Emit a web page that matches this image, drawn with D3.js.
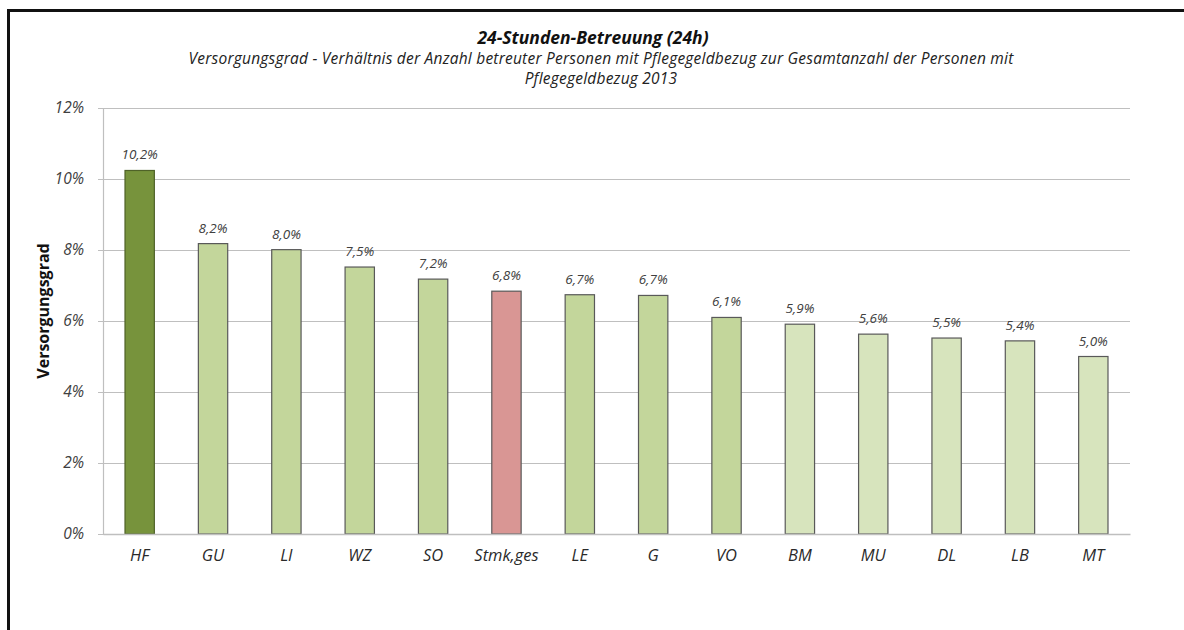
<!DOCTYPE html>
<html>
<head>
<meta charset="utf-8">
<script src="https://cdnjs.cloudflare.com/ajax/libs/d3/7.8.5/d3.min.js"></script>
<style>
  body { margin: 0; background: #fff; }
  svg { display: block; font-family: "Open Sans", Lato, sans-serif; }
</style>
</head>
<body>
<svg id="chart" width="1184" height="630"></svg>
<script>
const categories = ['HF', 'GU', 'LI', 'WZ', 'SO', 'Stmk,ges', 'LE', 'G', 'VO', 'BM', 'MU', 'DL', 'LB', 'MT'];
const values = [10.24, 8.18, 8.01, 7.52, 7.18, 6.84, 6.74, 6.72, 6.1, 5.91, 5.63, 5.52, 5.44, 5.0];
// colour group of each bar: top district, upper group, total, lower group
const groups = ['top', 'mid', 'mid', 'mid', 'mid', 'total', 'mid', 'mid', 'mid', 'low', 'low', 'low', 'low', 'low'];
const yTicks = [0, 2, 4, 6, 8, 10, 12];

const TITLE = '24-Stunden-Betreuung (24h)';
const SUBTITLE = ['Versorgungsgrad - Verhältnis der Anzahl betreuter Personen mit Pflegegeldbezug zur Gesamtanzahl der Personen mit',
    'Pflegegeldbezug 2013'];
const Y_LABEL = 'Versorgungsgrad';

const FILLS = { top: '#77933c', mid: '#c3d69b', total: '#d99694', low: '#d7e4bd' };

const svg = d3.select('#chart');
const margin = { left: 103, right: 54, top: 108, bottom: 96 };
const width = 1184 - margin.left - margin.right;
const height = 630 - margin.top - margin.bottom;

// frame (only top and left edges are visible in the picture)
svg.append('line').attr('x1', 8).attr('x2', 1184).attr('y1', 10.5).attr('y2', 10.5)
    .attr('stroke', '#111').attr('stroke-width', 3);
svg.append('line').attr('x1', 8.5).attr('x2', 8.5).attr('y1', 9).attr('y2', 630)
    .attr('stroke', '#111').attr('stroke-width', 3);

svg.append('text')
    .attr('x', 593).attr('y', 44)
    .attr('text-anchor', 'middle')
    .style('font-size', '17.5px').style('font-weight', 'bold').style('font-style', 'italic')
    .attr('fill', '#111')
    .text(TITLE);

svg.selectAll('.sub')
    .data(SUBTITLE)
    .enter().append('text')
    .attr('class', 'sub')
    .attr('x', 601).attr('y', (d, i) => 64 + i * 20)
    .attr('text-anchor', 'middle')
    .style('font-size', '15.5px').style('font-style', 'italic')
    .style('letter-spacing', '0.22px')
    .attr('fill', '#222')
    .text(d => d);

const g = svg.append('g').attr('transform', `translate(${margin.left},${margin.top})`);

const x = d3.scaleBand().domain(categories).range([0, width]).paddingInner(0.6).paddingOuter(0.3);
const y = d3.scaleLinear().domain([0, 12]).range([height, 0]);

// gridlines
g.append('g')
    .selectAll('line')
    .data(yTicks.filter(t => t > 0))
    .enter().append('line')
    .attr('x1', 0).attr('x2', width)
    .attr('y1', d => Math.round(y(d)) + 0.5).attr('y2', d => Math.round(y(d)) + 0.5)
    .attr('stroke', '#bfbfbf').attr('stroke-width', 1.2);

// y axis
const yAxis = g.append('g')
    .call(d3.axisLeft(y).tickValues(yTicks).tickSize(5).tickPadding(14).tickFormat(d => d + '%'));
yAxis.select('.domain').attr('stroke', '#bfbfbf').attr('stroke-width', 1.2);
yAxis.selectAll('.tick line').attr('stroke', '#bfbfbf');
yAxis.selectAll('.tick text')
    .style('font-size', '15.5px').style('font-style', 'italic')
    .style('font-family', '"Open Sans", sans-serif')
    .attr('fill', '#404040');

// bars
g.append('g')
    .selectAll('rect')
    .data(categories)
    .enter().append('rect')
    .attr('x', d => x(d))
    .attr('y', (d, i) => y(values[i]))
    .attr('width', x.bandwidth())
    .attr('height', (d, i) => height - y(values[i]))
    .attr('fill', (d, i) => FILLS[groups[i]])
    .attr('stroke', (d, i) => groups[i] === 'top' ? '#4f6228' : '#595959')
    .attr('stroke-width', 1.2);

// value labels
g.append('g')
    .selectAll('text')
    .data(categories)
    .enter().append('text')
    .attr('x', d => x(d) + x.bandwidth() / 2)
    .attr('y', (d, i) => y(values[i]) - 11)
    .attr('text-anchor', 'middle')
    .style('font-size', '13.5px').style('font-style', 'italic')
    .attr('fill', '#404040')
    .text((d, i) => values[i].toFixed(1).replace('.', ',') + '%');

// x axis
const xAxis = g.append('g')
    .attr('transform', `translate(0,${height})`)
    .call(d3.axisBottom(x).tickSize(0).tickPadding(15));
xAxis.select('.domain').attr('stroke', '#bfbfbf').attr('stroke-width', 1.5);
xAxis.selectAll('.tick text')
    .style('font-size', '16.5px').style('font-style', 'italic')
    .style('font-family', '"Open Sans", sans-serif')
    .attr('fill', '#2a2a2a');

svg.append('text')
    .attr('transform', 'translate(49,311) rotate(-90)')
    .attr('text-anchor', 'middle')
    .style('font-size', '16px').style('font-weight', 'bold')
    .attr('fill', '#111')
    .text(Y_LABEL);
</script>
</body>
</html>
